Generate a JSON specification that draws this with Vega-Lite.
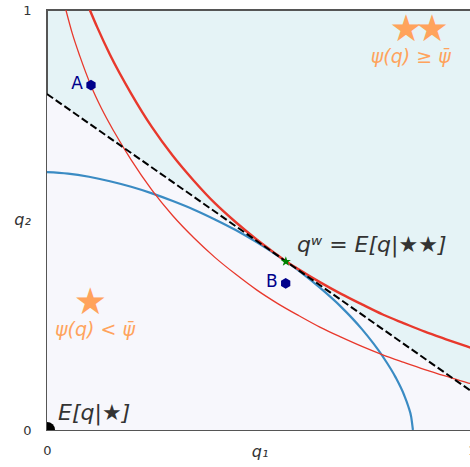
{
  "$schema": "https://vega.github.io/schema/vega-lite/v6.json",
  "width": 425,
  "height": 420,
  "autosize": {"type": "none"},
  "padding": {"left": 47, "top": 10, "right": 0, "bottom": 37},
  "background": "white",
  "config": {
    "view": {"fill": "#e5f3f6", "stroke": "#555555", "strokeWidth": 2},
    "axis": {
      "domain": false, "ticks": false, "tickSize": 0, "grid": false, "format": "d",
      "labelFont": "DejaVu Sans", "labelFontSize": 13, "labelColor": "#333333", "labelFlush": false,
      "titleFont": "DejaVu Sans", "titleFontSize": 16, "titleFontStyle": "italic", "titleFontWeight": "normal", "titleColor": "#333333"
    }
  },
  "datasets": {
    "dash": [{"q1": 0, "q2": 0.8}, {"q1": 1.02, "q2": 0.077}],
    "blue": [
      {"q1": 0, "q2": 0.614}, {"q1": 0.0494, "q2": 0.6104}, {"q1": 0.0988, "q2": 0.6029}, {"q1": 0.148, "q2": 0.5923},
      {"q1": 0.198, "q2": 0.5791}, {"q1": 0.247, "q2": 0.5634}, {"q1": 0.296, "q2": 0.5452}, {"q1": 0.346, "q2": 0.5246},
      {"q1": 0.395, "q2": 0.5014}, {"q1": 0.445, "q2": 0.4755}, {"q1": 0.494, "q2": 0.4466}, {"q1": 0.543, "q2": 0.4146},
      {"q1": 0.593, "q2": 0.3789}, {"q1": 0.642, "q2": 0.3388}, {"q1": 0.692, "q2": 0.2932}, {"q1": 0.741, "q2": 0.2401},
      {"q1": 0.79, "q2": 0.1751}, {"q1": 0.82, "q2": 0.1259}, {"q1": 0.84, "q2": 0.0839}, {"q1": 0.85, "q2": 0.0566},
      {"q1": 0.857, "q2": 0.0305}, {"q1": 0.861, "q2": 0}
    ],
    "thin": [
      {"q1": 0.0445, "q2": 1.0}, {"q1": 0.0593, "q2": 0.945}, {"q1": 0.0777, "q2": 0.889}, {"q1": 0.103, "q2": 0.821},
      {"q1": 0.128, "q2": 0.766}, {"q1": 0.158, "q2": 0.71}, {"q1": 0.198, "q2": 0.643}, {"q1": 0.247, "q2": 0.571},
      {"q1": 0.296, "q2": 0.51}, {"q1": 0.346, "q2": 0.457}, {"q1": 0.395, "q2": 0.411}, {"q1": 0.445, "q2": 0.37},
      {"q1": 0.494, "q2": 0.333}, {"q1": 0.543, "q2": 0.301}, {"q1": 0.593, "q2": 0.272}, {"q1": 0.642, "q2": 0.245},
      {"q1": 0.692, "q2": 0.221}, {"q1": 0.741, "q2": 0.199}, {"q1": 0.79, "q2": 0.179}, {"q1": 0.84, "q2": 0.161},
      {"q1": 0.889, "q2": 0.144}, {"q1": 0.939, "q2": 0.128}, {"q1": 0.988, "q2": 0.113}, {"q1": 1.018, "q2": 0.105}
    ],
    "thick": [
      {"q1": 0.1008, "q2": 1.0}, {"q1": 0.1186, "q2": 0.958}, {"q1": 0.148, "q2": 0.894}, {"q1": 0.198, "q2": 0.801},
      {"q1": 0.247, "q2": 0.721}, {"q1": 0.296, "q2": 0.653}, {"q1": 0.346, "q2": 0.593}, {"q1": 0.395, "q2": 0.54},
      {"q1": 0.445, "q2": 0.494}, {"q1": 0.494, "q2": 0.453}, {"q1": 0.543, "q2": 0.416}, {"q1": 0.562, "q2": 0.402},
      {"q1": 0.593, "q2": 0.382}, {"q1": 0.642, "q2": 0.352}, {"q1": 0.692, "q2": 0.324}, {"q1": 0.741, "q2": 0.299},
      {"q1": 0.79, "q2": 0.275}, {"q1": 0.84, "q2": 0.254}, {"q1": 0.889, "q2": 0.234}, {"q1": 0.939, "q2": 0.216},
      {"q1": 0.988, "q2": 0.199}, {"q1": 1.018, "q2": 0.189}
    ],
    "origin": [{"q1": 0, "q2": 0}],
    "dots": [{"label": "A", "q1": 0.1035, "q2": 0.821}, {"label": "B", "q1": 0.5616, "q2": 0.349}],
    "star": [{"q1": 0.562, "q2": 0.401}],
    "letters": [{"label": "A", "q1": 0.0706, "q2": 0.824}, {"label": "B", "q1": 0.529, "q2": 0.352}],
    "math": [{"label": "qʷ = E[q|★★]", "q1": 0.588, "q2": 0.424}, {"label": "E[q|★]", "q1": 0.026, "q2": 0.024}],
    "ostars": [{"label": "★", "q1": 0.845, "q2": 0.926}, {"label": "★", "q1": 0.906, "q2": 0.926}, {"label": "★", "q1": 0.102, "q2": 0.276}],
    "psi": [{"label": "ψ(q) ≥ ψ̄", "q1": 0.856, "q2": 0.873}, {"label": "ψ(q) < ψ̄", "q1": 0.113, "q2": 0.224}]
  },
  "encoding": {
    "x": {"field": "q1", "type": "quantitative", "scale": {"domain": [0, 1], "nice": false, "zero": false},
      "axis": {"values": [0, 1], "title": "q₁", "labelPadding": 14, "titleY": 26, "titleBaseline": "alphabetic"}},
    "y": {"field": "q2", "type": "quantitative", "scale": {"domain": [0, 1], "nice": false, "zero": false},
      "axis": {"values": [0, 1], "title": "q₂", "labelPadding": 16, "titleAngle": 0, "titleAlign": "center", "titleBaseline": "alphabetic", "titleX": -25, "titleY": 214}}
  },
  "layer": [
    {"data": {"name": "dash"}, "mark": {"type": "area", "color": "#f7f7fc", "clip": true, "opacity": 1}, "encoding": {"y2": {"datum": 0}}},
    {"data": {"name": "blue"}, "mark": {"type": "line", "color": "#3a8bc3", "strokeWidth": 2.2, "interpolate": "monotone", "clip": true}},
    {"data": {"name": "thin"}, "mark": {"type": "line", "color": "#e8382c", "strokeWidth": 1.3, "interpolate": "monotone", "clip": true}},
    {"data": {"name": "thick"}, "mark": {"type": "line", "color": "#e8382c", "strokeWidth": 2.4, "interpolate": "monotone", "clip": true}},
    {"data": {"name": "dash"}, "mark": {"type": "line", "color": "black", "strokeWidth": 2, "strokeDash": [7.4, 3.2], "clip": true}},
    {"data": {"name": "origin"}, "mark": {"type": "point", "filled": true, "color": "black", "opacity": 1, "size": 260, "clip": true}},
    {"data": {"name": "dots"}, "mark": {"type": "point", "filled": true, "color": "#00008b", "opacity": 1, "size": 115, "shape": "M0,-1L0.866,-0.5L0.866,0.5L0,1L-0.866,0.5L-0.866,-0.5Z"}},
    {"data": {"name": "star"}, "mark": {"type": "point", "filled": true, "color": "#008000", "opacity": 1, "size": 110, "shape": "M0,-1L0.235,-0.324L0.951,-0.309L0.38,0.124L0.588,0.809L0,0.4L-0.588,0.809L-0.38,0.124L-0.951,-0.309L-0.235,-0.324Z"}},
    {"data": {"name": "letters"}, "mark": {"type": "text", "font": "DejaVu Sans", "fontSize": 17, "color": "#00008b", "align": "center", "baseline": "middle"}, "encoding": {"text": {"field": "label"}}},
    {"data": {"name": "math"}, "mark": {"type": "text", "font": "DejaVu Sans", "fontSize": 22, "fontStyle": "italic", "color": "#333333", "align": "left", "baseline": "alphabetic"}, "encoding": {"text": {"field": "label"}}},
    {"data": {"name": "ostars"}, "mark": {"type": "text", "font": "DejaVu Sans", "fontSize": 37, "color": "#ffa35c", "align": "center", "baseline": "alphabetic"}, "encoding": {"text": {"field": "label"}}},
    {"data": {"name": "psi"}, "mark": {"type": "text", "font": "DejaVu Sans", "fontSize": 19, "fontStyle": "italic", "color": "#ffa35c", "align": "center", "baseline": "alphabetic"}, "encoding": {"text": {"field": "label"}}}
  ]
}
